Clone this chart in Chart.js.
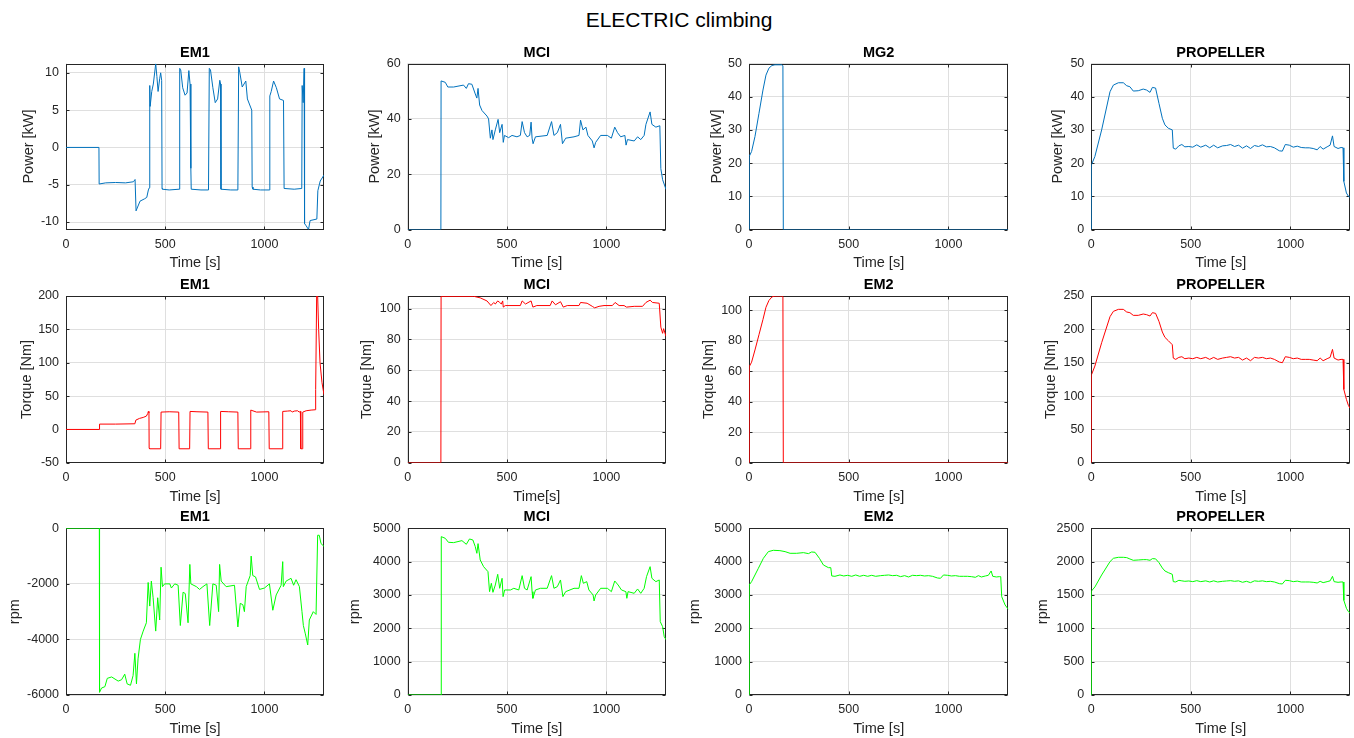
<!DOCTYPE html>
<html>
<head>
<meta charset="utf-8">
<script src="https://cdn.jsdelivr.net/npm/chart.js@4"></script>
<style>
  body { margin:0; background:#fff; width:1354px; height:738px; overflow:hidden; position:relative; font-family:"Liberation Sans", Arial, sans-serif; }
  #suptitle { position:absolute; left:0; width:1358px; top:7px; text-align:center; font-size:21px; line-height:25px; color:#000; }
  .pc { position:absolute; }
  .pc canvas { display:block; }
</style>
</head>
<body>
<div id="suptitle">ELECTRIC climbing</div>
<script>
// ---------------- DATA ----------------
const timeTicks = [0, 500, 1000];

// EM1 power [kW]
const em1PowerT = [0,166,167,200,250,300,340,348,353,373, 395,407,415,420,422,424,432,440,452,458, 464,472,477,482,484,486,520,570,573,578, 588,600,610,619,625,629,631,680,718,722, 728,740,752,764,775,779,781,830,866,870, 876,888,906,914,936,938,942,980,1024,1027, 1034,1046,1060,1076,1096,1099,1101,1150,1188,1190, 1195,1200,1202,1210,1222,1230,1264,1269,1281,1300];
const em1PowerV = [0,0,-4.9,-4.75,-4.7,-4.75,-4.6,-4.3,-8.5,-7.2, -6.9,-6.7,-5.7,-5.4,8.3,5.5,7.5,8.5,11.2,9.5, 7.5,9.2,10.0,9.0,-5.5,-5.6,-5.7,-5.6,10.6,10.4, 8.0,7.0,7.3,10.3,8.5,-2.8,-5.6,-5.7,-5.7,10.6, 10.4,8.0,6.0,6.5,9.0,8.5,-5.6,-5.7,-5.7,10.8, 10.0,8.1,8.9,6.5,5.0,-5.3,-5.6,-5.7,-5.7,6.9, 7.5,8.9,8.0,6.5,6.3,-5.5,-5.5,-5.6,-5.5,8.3, 6.0,10.6,-10.2,-10.5,-11.0,-9.8,-9.6,-5.8,-4.5,-3.7];

// MCI power [kW]
const mciPowerT = [0,167,168,189,202,231,281,295,306,323, 340,348,354,362,374,399,407,416,424,429, 441,455,463,475,481,487,508,525,550,567, 576,588,601,614,621,626,631,643,702,724, 736,753,769,779,795,837,862,870,882,897, 907,929,938,946,971,1005,1025,1042,1056,1072, 1093,1099,1106,1140,1157,1173,1190,1199,1220,1229, 1249,1269,1274,1283,1300];
const mciPowerV = [0,0,53.7,53.2,51.5,51.5,52.2,51.0,52.7,52.5, 49.0,47.5,51.0,45.0,43.0,41.0,40.0,33.0,36.0,32.5, 36.0,39.8,35.0,38.0,31.5,34.0,33.2,34.0,33.5,34.0, 39.0,35.0,33.5,34.0,38.8,33.0,31.0,33.5,34.0,39.0, 34.0,35.0,38.0,31.0,33.0,33.5,34.0,39.5,36.0,37.0, 34.0,32.0,29.5,31.5,34.0,34.0,33.0,37.0,35.0,33.5, 34.0,30.5,32.5,32.0,33.5,32.5,34.0,38.0,42.5,38.0, 37.0,37.5,22.0,18.0,14.5];

// MG2 / EM2 start-phase time base
const em2StartT = [0,1,13,30,50,70,85,100,115,130,165,170,172,1300];
const mg2PowerV = [0,22,23.5,28,35,42,46.5,48.6,49.4,49.6,49.6,49.3,0,0];
const em2TorqueV = [0,63,66,74,84,94,102,106.5,108.8,109.4,109.4,109,0,0];

// PROPELLER time base
const propT = [0,1,18,52,94,111,136,161,178,194, 211,236,261,278,295,307,323,340,357,370, 387,407,412,424,440,455,470,490,510,530, 550,575,595,615,635,660,680,700,720,740, 760,780,800,820,840,860,880,900,920,945, 960,975,995,1015,1035,1055,1075,1095,1115,1135, 1150,1165,1185,1200,1212,1220,1240,1255,1265,1269, 1282,1292,1300];
const propPowerV = [0,19.5,22,30,41.5,43.5,44.2,44.2,43.3,43.0, 41.7,41.8,42.3,42.0,41.3,42.8,42.6,38.0,33.5,31.5, 30.5,30.0,24.5,24.2,25.2,25.6,24.9,25.0,24.8,25.5, 24.8,25.4,24.6,25.4,24.6,25.2,25.3,25.6,25.0,25.4, 24.5,25.2,24.4,25.3,25.0,25.5,24.9,25.0,24.6,23.7, 23.6,25.6,25.4,24.8,25.1,24.7,24.6,24.6,24.4,24.0, 25.0,24.2,24.9,25.4,28.2,25.0,24.4,24.7,24.6,14.5, 11.0,10.0,9.7];
const propTorqueV = [0,132,145,180,219,227,230,230,226,225, 221,221,223,222,220,225,224,212,196,188, 183,177,157,155,158,159,156,157,156,158, 156,158,155,158,155,157,158,159,157,158, 154,157,153,158,157,158,156,157,155,151, 150,159,158,156,157,155,155,155,154,153, 157,153,156,158,170,157,154,155,155,110, 95,86,82];
const propRpmV = [0,1560,1620,1800,2000,2050,2065,2065,2060,2040, 2020,2025,2030,2030,2020,2045,2042,1985,1905,1860, 1835,1810,1700,1695,1720,1712,1705,1710,1700,1715, 1700,1712,1695,1712,1695,1705,1710,1715,1705,1712, 1690,1705,1685,1712,1705,1712,1700,1705,1695,1670, 1665,1720,1715,1700,1708,1695,1695,1695,1690,1680, 1705,1685,1700,1712,1780,1700,1690,1695,1695,1420, 1300,1250,1230];

// EM1 torque [Nm]
const em1TorqueT = [0,168,169,250,347,352,370,389,405,412, 415,418,419,421,477,479,520,568,570,623, 625,660,715,717,777,779,820,866,868,928, 931,960,1022,1024,1090,1092,1115,1134,1140,1150, 1167,1175,1181,1183,1191,1193,1210,1235,1256,1258, 1263,1268,1273,1280,1290,1300];
const em1TorqueV = [0,0,8,8,8.5,14,16.5,18,20,24, 27,25,-28,-29,-29,26,26.5,26,-29,-29, 27,26.5,26,-29,-29,27,26.5,26,-29,-29, 29,26,26.5,-29,-29,27,27.5,28,26,27.5, 28,26,27,-29,-29,26,28,29,29.5,60, 200,200,150,100,70,52];

// MCI torque [Nm]
const mciTorqueT = [0,167,168,332,365,399,419,433,441,453, 463,471,478,481,491,567,576,593,621,630, 650,717,727,744,769,783,803,862,870,903, 929,941,963,988,1030,1044,1064,1089,1101,1140, 1182,1199,1220,1232,1266,1274,1283,1288,1300];
const mciTorqueV = [0,0,108,108,107,105,102,104,103,105, 104,103,105,101,102,102,105,103,105,101, 102,102,105,102.5,104.5,101,102,102,104,103.5, 101.5,100.5,101.5,102,102,104,102,102,101,101.5, 101.5,104,105.5,104,103.5,88,84,87,82];

// EM1 speed [rpm]
const em1RpmT = [0,168,169,179,196,208,230,263,280,296, 308,325,338,347,355,363,375,389,405,414, 422,430,439,452,462,472,479,486,497,523, 531,548,565,576,590,601,615,624,629,657, 673,690,710,724,740,757,769,774,782,807, 849,866,878,891,899,908,928,933,941,955, 975,1000,1025,1042,1059,1084,1092,1095,1109,1134, 1147,1159,1176,1189,1196,1206,1218,1226,1246,1260, 1268,1276,1285,1300];
const em1RpmV = [0,0,-5900,-5750,-5700,-5400,-5350,-5500,-5450,-5250, -5600,-5650,-5300,-4500,-5600,-4700,-4000,-3700,-3400,-1950, -2800,-1900,-2500,-3700,-2500,-3300,-1400,-2100,-2000,-2000, -2150,-2000,-2050,-3500,-2300,-2350,-3400,-1300,-2000,-2100, -2200,-2100,-2000,-3500,-2000,-2050,-3000,-1300,-1900,-2100, -2050,-3550,-2700,-2750,-3000,-2100,-1700,-1000,-1700,-1750, -2200,-2150,-2000,-2950,-2400,-2050,-1200,-2100,-1900,-1800, -2050,-1850,-2100,-3000,-3500,-3800,-4200,-3300,-3000,-3100, -250,-250,-550,-650];

// MCI speed [rpm]
const mciRpmT = [0,168,169,189,205,231,273,295,311,328, 340,348,354,365,382,404,412,421,429,441, 453,463,475,480,488,517,534,559,576,588, 601,621,626,630,643,668,702,724,736,753, 769,781,795,837,862,874,884,901,912,933, 938,946,971,1005,1025,1042,1059,1076,1098,1103, 1109,1140,1157,1173,1190,1202,1220,1229,1249,1266, 1271,1283,1291,1300];
const mciRpmV = [0,0,4750,4700,4580,4570,4630,4520,4680,4650, 4450,4250,4540,4050,3850,3700,3100,3350,3080,3300, 3620,3200,3500,2950,3150,3150,3200,3150,3580,3200, 3150,3550,3100,2900,3150,3200,3200,3580,3200,3250, 3450,2950,3100,3200,3200,3580,3350,3400,3150,3000, 2820,3000,3200,3200,3100,3420,3300,3150,3100,2900, 3100,3050,3180,3050,3200,3550,3850,3500,3400,3450, 2200,2050,1750,1660];

// EM2 speed [rpm]
const em2RpmT = [0,1,13,47,72,97,122,155,181,206, 239,273,298,314,331,353,373,398,410,415, 431,456,475,495,515,535,555,575,595,615, 635,660,680,700,720,740,760,780,800,820, 840,860,880,900,920,945,960,975,995,1015, 1035,1055,1075,1095,1115,1135,1150,1165,1185,1200, 1214,1222,1240,1255,1262,1267,1284,1300];
const em2RpmV = [0,3300,3400,3800,4100,4300,4340,4330,4300,4250, 4250,4270,4240,4290,4280,4100,3900,3820,3820,3570, 3560,3600,3570,3590,3560,3600,3560,3590,3560,3590, 3560,3580,3590,3600,3580,3590,3550,3580,3540,3590, 3580,3590,3570,3580,3560,3510,3500,3600,3590,3570, 3580,3560,3560,3560,3550,3530,3580,3540,3570,3590, 3720,3560,3540,3550,3550,2950,2700,2570];

// Y tick values
const em1PowerTicks = [-10, -5, 0, 5, 10];
const mciPowerTicks = [0, 20, 40, 60];
const power50Ticks = [0, 10, 20, 30, 40, 50];
const em1TorqueTicks = [-50, 0, 50, 100, 150, 200];
const torque100Ticks = [0, 20, 40, 60, 80, 100];
const propTorqueTicks = [0, 50, 100, 150, 200, 250];
const em1RpmTicks = [-6000, -4000, -2000, 0];
const rpm5000Ticks = [0, 1000, 2000, 3000, 4000, 5000];
const propRpmTicks = [0, 500, 1000, 1500, 2000, 2500];

// ---------------- STYLE / LAYOUT ----------------
const FF = "'Liberation Sans', Arial, Helvetica, sans-serif";
const TXT = '#262626';
const GRID = '#dfdfdf';
const BLUE = '#0072BD', RED = '#FF0000', GREEN = '#00FF00';
const colL = [66, 407.7, 749, 1091.3];
const colR = [324, 666, 1008.3, 1350];
const rowT = [63.5, 296, 528.3];
const rowB = [229.5, 462.8, 695];

const panels = [
  {r:0,c:0,title:'EM1',t:em1PowerT,v:em1PowerV,ymin:-11,ymax:11.25,yt:em1PowerTicks,yl:'Power [kW]',xl:'Time [s]',col:BLUE,d:37},
  {r:0,c:1,title:'MCI',t:mciPowerT,v:mciPowerV,ymin:0,ymax:60,yt:mciPowerTicks,yl:'Power [kW]',xl:'Time [s]',col:BLUE,d:33},
  {r:0,c:2,title:'MG2',t:em2StartT,v:mg2PowerV,ymin:0,ymax:50,yt:power50Ticks,yl:'Power [kW]',xl:'Time [s]',col:BLUE,d:32},
  {r:0,c:3,title:'PROPELLER',t:propT,v:propPowerV,ymin:0,ymax:50,yt:power50Ticks,yl:'Power [kW]',xl:'Time [s]',col:BLUE,d:33},
  {r:1,c:0,title:'EM1',t:em1TorqueT,v:em1TorqueV,ymin:-50,ymax:200,yt:em1TorqueTicks,yl:'Torque [Nm]',xl:'Time [s]',col:RED,d:39},
  {r:1,c:1,title:'MCI',t:mciTorqueT,v:mciTorqueV,ymin:0,ymax:108.2,yt:torque100Ticks,yl:'Torque [Nm]',xl:'Time[s]',col:RED,d:41},
  {r:1,c:2,title:'EM2',t:em2StartT,v:em2TorqueV,ymin:0,ymax:109.4,yt:torque100Ticks,yl:'Torque [Nm]',xl:'Time [s]',col:RED,d:40},
  {r:1,c:3,title:'PROPELLER',t:propT,v:propTorqueV,ymin:0,ymax:250,yt:propTorqueTicks,yl:'Torque [Nm]',xl:'Time [s]',col:RED,d:40},
  {r:2,c:0,title:'EM1',t:em1RpmT,v:em1RpmV,ymin:-6000,ymax:0,yt:em1RpmTicks,yl:'rpm',xl:'Time [s]',col:GREEN,d:51},
  {r:2,c:1,title:'MCI',t:mciRpmT,v:mciRpmV,ymin:0,ymax:5000,yt:rpm5000Ticks,yl:'rpm',xl:'Time [s]',col:GREEN,d:53},
  {r:2,c:2,title:'EM2',t:em2RpmT,v:em2RpmV,ymin:0,ymax:5000,yt:rpm5000Ticks,yl:'rpm',xl:'Time [s]',col:GREEN,d:54},
  {r:2,c:3,title:'PROPELLER',t:propT,v:propRpmV,ymin:0,ymax:2500,yt:propRpmTicks,yl:'rpm',xl:'Time [s]',col:GREEN,d:48}
];

const TICK_SIZE = 12.5, LABEL_SIZE = 14.5, TITLE_SIZE = 14.5;
const TITLE_H = 28, XAXIS_H = 44, XLABEL_DIST = 33.7, TITLE_DIST = 11;

const boxPlugin = {
  id: 'matlabBox',
  beforeDatasetsDraw(chart) {
    const {ctx, chartArea: a, scales: {x, y}} = chart;
    const L = Math.round(a.left) + 0.5, R = Math.round(a.right) - 0.5;
    const T = Math.round(a.top) + 0.5, B = Math.round(a.bottom) - 0.5;
    ctx.save();
    ctx.strokeStyle = TXT; ctx.lineWidth = 1;
    ctx.beginPath();
    x.ticks.forEach(tk => {
      const px = Math.round(x.getPixelForValue(tk.value)) + 0.5;
      ctx.moveTo(px, B); ctx.lineTo(px, B - 3);
      ctx.moveTo(px, T); ctx.lineTo(px, T + 3);
    });
    y.ticks.forEach(tk => {
      const py = Math.round(y.getPixelForValue(tk.value)) + 0.5;
      ctx.moveTo(L, py); ctx.lineTo(L + 3, py);
      ctx.moveTo(R, py); ctx.lineTo(R - 3, py);
    });
    ctx.stroke();
    ctx.strokeRect(L, T, R - L, B - T);
    ctx.restore();
  }
};

panels.forEach(p => {
  const pl = colL[p.c], pr = colR[p.c], pt = rowT[p.r], pb = rowB[p.r];
  const pw = pr - pl, ph = pb - pt;
  const cl = Math.floor(pl - p.d - 12);
  const yw = pl - cl;
  const cw = Math.ceil(yw + pw + 2);
  const padR = cw - yw - pw;
  const ct = Math.floor(pt - TITLE_H);
  const th = pt - ct;
  const chh = Math.ceil(th + ph + XAXIS_H + 1);
  const padB = chh - th - ph - XAXIS_H;
  const tLine = TITLE_SIZE * 1.2, lLine = LABEL_SIZE * 1.2, kLine = TICK_SIZE * 1.2;

  const div = document.createElement('div');
  div.className = 'pc';
  div.style.left = cl + 'px'; div.style.top = ct + 'px';
  div.style.width = cw + 'px'; div.style.height = chh + 'px';
  const cv = document.createElement('canvas');
  cv.width = cw; cv.height = chh;
  cv.style.width = cw + 'px'; cv.style.height = chh + 'px';
  div.appendChild(cv);
  document.body.appendChild(div);

  const pts = p.t.map((tt, i) => ({x: tt, y: p.v[i]}));

  new Chart(cv, {
    type: 'line',
    data: { datasets: [{ data: pts, borderColor: p.col, borderWidth: 1, pointRadius: 0, tension: 0, fill: false }] },
    options: {
      responsive: false, animation: false, events: [],
      layout: { padding: { left: 0, top: 0, right: padR, bottom: padB } },
      plugins: {
        legend: { display: false }, tooltip: { enabled: false },
        title: { display: true, fullSize: false, text: p.title, color: '#000',
                 font: { family: FF, size: TITLE_SIZE, weight: 'bold' },
                 padding: { top: th - tLine - (TITLE_DIST - tLine / 2), bottom: TITLE_DIST - tLine / 2 } }
      },
      scales: {
        x: {
          type: 'linear', min: 0, max: 1300,
          afterBuildTicks: s => { s.ticks = timeTicks.map(v => ({value: v})); },
          afterFit: s => { s.height = XAXIS_H; },
          grid: { color: GRID, drawTicks: false, lineWidth: 1 },
          border: { display: false },
          ticks: { color: TXT, font: { family: FF, size: TICK_SIZE }, padding: 15 - kLine / 2, maxRotation: 0, autoSkip: false, callback: v => String(v) },
          title: { display: true, text: p.xl, color: TXT, font: { family: FF, size: LABEL_SIZE }, padding: { top: 0, bottom: XAXIS_H - XLABEL_DIST - lLine / 2 } }
        },
        y: {
          type: 'linear', min: p.ymin, max: p.ymax,
          afterBuildTicks: s => { s.ticks = p.yt.map(v => ({value: v})); },
          afterFit: s => { s.width = yw; },
          grid: { color: GRID, drawTicks: false, lineWidth: 1 },
          border: { display: false },
          ticks: { color: TXT, font: { family: FF, size: TICK_SIZE }, padding: 7, autoSkip: false, callback: v => String(v) },
          title: { display: true, text: p.yl, color: TXT, font: { family: FF, size: LABEL_SIZE }, padding: { top: yw - p.d - lLine / 2, bottom: 0 } }
        }
      }
    },
    plugins: [boxPlugin]
  });
});
</script>
</body>
</html>
